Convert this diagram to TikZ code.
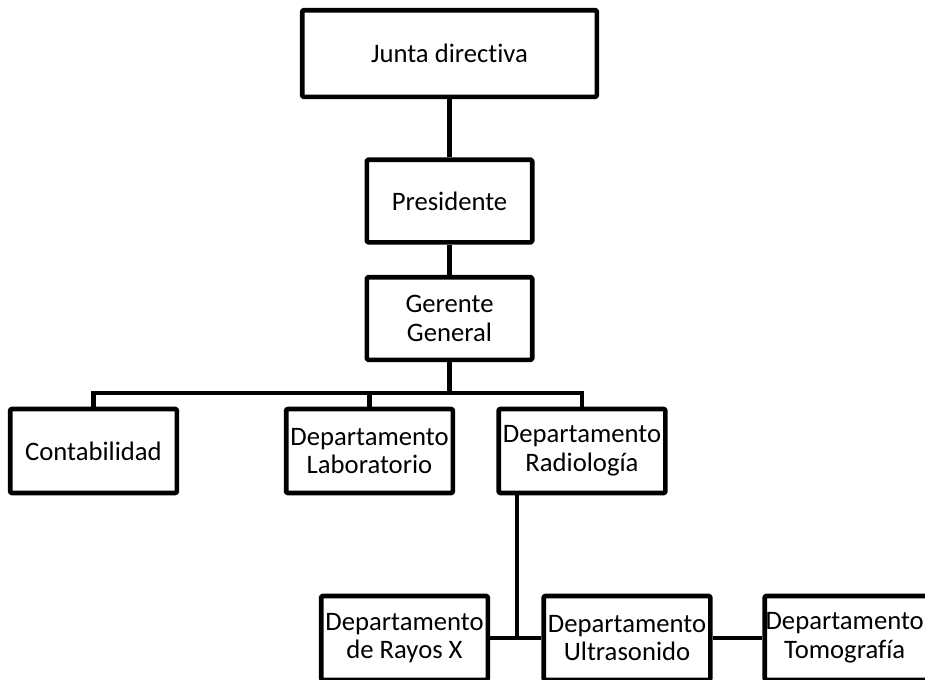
\documentclass[tikz,border=0pt]{standalone}
\usepackage{fontspec}
\setmainfont{Carlito}[Ligatures=NoCommon]
\begin{document}
\begin{tikzpicture}[x=0.75pt,y=-0.75pt,
  box/.style={draw=black, line width=3.5pt, fill=white, inner sep=0pt, align=center,
    font=\fontsize{20}{21.5}\selectfont, rounded corners=1pt, line join=round},
  wide/.style={minimum width=221pt, minimum height=65pt},
  mid/.style={minimum width=124pt, minimum height=62pt},
  unit/.style={minimum width=125pt, minimum height=63pt},
  link/.style={line width=3.5pt}]
\path[use as bounding box] (0,0) rectangle (925,679);
\clip (0,0) rectangle (925,679);
\fill[white] (0,0) rectangle (925,679);
% connectors
\coordinate (bus) at (449.5,393);
\coordinate (rj) at (517,638);
% nodes
\node[box, wide] (junta) at (449.5,53.5) {Junta directiva};
\node[box, mid] (pres) at (449.5,201) {Presidente};
\node[box, mid] (ger) at (449.5,318.5) {Gerente\\General};
\node[box, unit] (cont) at (93.5,451) {Contabilidad};
\node[box, unit] (lab) at (369.5,451) {Departamento\\Laboratorio};
\node[box, unit] (rad) at (582,451) {Departamento\\Radiología};
\node[box, unit] (rayos) at (404.5,638) {Departamento\\de Rayos X};
\node[box, unit] (ultra) at (627,638) {Departamento\\Ultrasonido};
\node[box, unit] (tomo) at (848,638) {Departamento\kern5pt\\Tomografía\kern5pt};
% links
\draw[link] (junta.south) -- (pres.north);
\draw[link] (pres.south) -- (ger.north);
\draw[link] (ger.south) -- (ger.south |- bus);
\draw[link] (cont.north) -- (cont.north |- bus) -- (rad.north |- bus) -- (rad.north);
\draw[link] (lab.north) -- (lab.north |- bus);
\draw[link] (rj |- rad.south) -- (rj);
\draw[link] (rayos.east) -- (ultra.west);
\draw[link] (ultra.east) -- (tomo.west);
\end{tikzpicture}
\end{document}
